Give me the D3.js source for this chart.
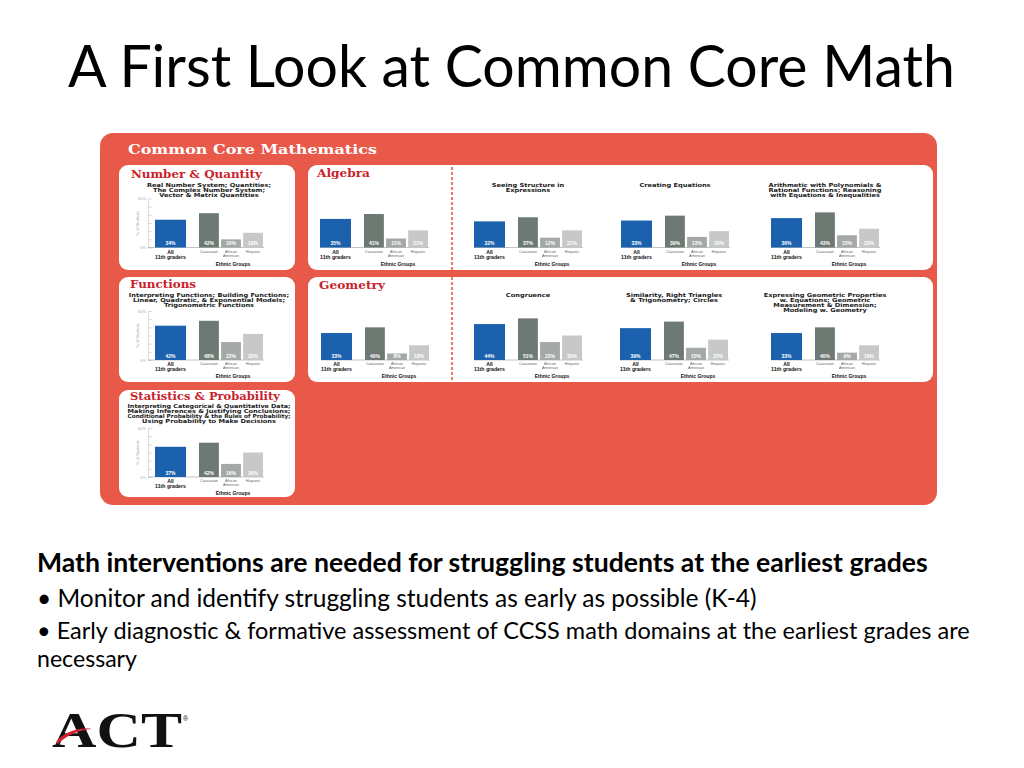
<!DOCTYPE html>
<html>
<head>
<meta charset="utf-8">
<script src="https://cdn.jsdelivr.net/npm/d3@7"></script>
<style>
body { margin: 0; background: #fff; }
svg { display: block; }
</style>
</head>
<body>
<div id="slide"></div>
<script>
// Slide text.
const slideTitle = 'A First Look at Common Core Math';
const boxTitle = 'Common Core Mathematics';
const bodyLines = [
    'Math interventions are needed for struggling students at the earliest grades',
    '\u2022 Monitor and identify struggling students as early as possible (K-4)',
    '\u2022 Early diagnostic & formative assessment of CCSS math domains at the earliest grades are',
    'necessary',
];

// Panel headings (one per white card).
const panelTitles = ['Number & Quantity', 'Algebra', 'Functions', 'Geometry', 'Statistics & Probability'];

// One entry per small bar chart, in reading order.
const chartSubtitles = [
    ['Real Number System; Quantities;', 'The Complex Number System;', 'Vector & Matrix Quantities'],
    [],
    ['Seeing Structure in', 'Expressions'],
    ['Creating Equations'],
    ['Arithmetic with Polynomials &', 'Rational Functions; Reasoning', 'with Equations & Inequalities'],
    ['Interpreting Functions; Building Functions;', 'Linear, Quadratic, & Exponential Models;', 'Trigonometric Functions'],
    [],
    ['Congruence'],
    ['Similarity, Right Triangles', '& Trigonometry; Circles'],
    ['Expressing Geometric Properties', 'w. Equations; Geometric', 'Measurement & Dimension;', 'Modeling w. Geometry'],
    ['Interpreting Categorical & Quantitative Data;', 'Making Inferences & Justifying Conclusions;',
        'Conditional Probability & the Rules of Probability;', 'Using Probability to Make Decisions'],
];

// Percent of students meeting the benchmark.
const allStudents     = [34, 35, 32, 33, 36, 42, 33, 44, 39, 33, 37];
const caucasian       = [42, 41, 37, 39, 43, 48, 40, 51, 47, 40, 42];
const africanAmerican = [10, 11, 12, 13, 15, 22,  8, 22, 15,  9, 16];
const hispanic        = [18, 21, 21, 20, 23, 32, 18, 30, 25, 18, 30];

const allLabel = ['All', '11th graders'];
const ethnicGroups = ['Caucasian', 'African American', 'Hispanic'];
const groupLabel = 'Ethnic Groups';
const yTicks = [0, 10, 20, 30, 40, 50, 60];
const yTickLabels = ['0%', '', '', '', '', '', '60%'];
const yLabel = '% of Students';

// ---- layout and style ----
const red = '#e8594a';
const titleRed = '#c8232c';
const barColors = ['#1b61ae', '#6c7a73', '#a4a9a7', '#c7c9c8'];

const panels = [
    {x: 119, y: 165, w: 176, h: 105, tx: 131, ty: 178, tw: 131},
    {x: 308, y: 165, w: 625, h: 105, tx: 317, ty: 177, tw: 53},
    {x: 119, y: 277, w: 176, h: 105, tx: 130, ty: 288, tw: 66},
    {x: 308, y: 277, w: 625, h: 105, tx: 319, ty: 289, tw: 66},
    {x: 119, y: 390, w: 176, h: 107, tx: 130, ty: 400, tw: 150},
];

const rowBaselines = [247.5, 360, 477];
const rowSubtitleTop = [186.5, 297, 407.5];
const chartLayout = [
    {x: 155, row: 0, axis: true},
    {x: 320, row: 0},
    {x: 474, row: 0},
    {x: 621, row: 0},
    {x: 771, row: 0},
    {x: 155, row: 1, axis: true},
    {x: 321, row: 1},
    {x: 474, row: 1},
    {x: 620, row: 1},
    {x: 771, row: 1},
    {x: 155, row: 2, axis: true},
];

const svg = d3.select('#slide')
    .append('svg')
    .attr('width', 1024)
    .attr('height', 768);

// Grow or shrink the font so the text runs to the given width.
function fit_text(sel, width) {
    const size = parseFloat(sel.attr('font-size'));
    const w = sel.node().getComputedTextLength();
    sel.attr('font-size', size * width / w);
}

let title = svg.append('text')
    .attr('x', 68)
    .attr('y', 87)
    .attr('font-family', 'Lato, sans-serif')
    .attr('font-size', 56)
    .attr('fill', '#000')
    .text(slideTitle);
fit_text(title, 887);

// Red backdrop with the white cards.
svg.append('rect')
    .attr('x', 100).attr('y', 133)
    .attr('width', 837).attr('height', 372)
    .attr('rx', 13)
    .attr('fill', red);

svg.append('text')
    .attr('x', 128).attr('y', 153.5)
    .attr('font-family', 'DejaVu Serif, serif')
    .attr('font-weight', 'bold')
    .attr('font-size', 12.5)
    .attr('fill', '#fff')
    .attr('textLength', 249)
    .attr('lengthAdjust', 'spacingAndGlyphs')
    .text(boxTitle);

svg.selectAll('.panel')
    .data(panels)
    .join('rect')
        .attr('class', 'panel')
        .attr('x', (d) => d.x).attr('y', (d) => d.y)
        .attr('width', (d) => d.w).attr('height', (d) => d.h)
        .attr('rx', 9)
        .attr('fill', '#fff');

svg.selectAll('.panel-title')
    .data(panels)
    .join('text')
        .attr('class', 'panel-title')
        .attr('x', (d) => d.tx).attr('y', (d) => d.ty)
        .attr('font-family', 'DejaVu Serif, serif')
        .attr('font-weight', 'bold')
        .attr('font-size', 10.5)
        .attr('fill', titleRed)
        .attr('textLength', (d) => d.tw)
        .attr('lengthAdjust', 'spacingAndGlyphs')
        .text((d, i) => panelTitles[i]);

// Dashed divider between the domain total and its clusters.
svg.append('line')
    .attr('x1', 452).attr('x2', 452)
    .attr('y1', 167).attr('y2', 381)
    .attr('stroke', red)
    .attr('stroke-width', 1.6)
    .attr('stroke-dasharray', '3,2');

chartLayout.forEach((c, i) => {
    const base = rowBaselines[c.row];
    const g = svg.append('g').attr('transform', `translate(${c.x}, 0)`);

    const y = d3.scaleLinear().domain([0, 60]).range([base, base - 49]);
    const xAll = d3.scaleBand().domain([allLabel.join(' ')]).range([0, 31]);
    const xEth = d3.scaleBand().domain(ethnicGroups).range([44, 108]).paddingInner(0.1);

    // subtitle, centred over the chart; the print face is wide, so stretch it
    chartSubtitles[i].forEach((line, k) => {
        const t = g.append('text')
            .attr('x', 54)
            .attr('y', rowSubtitleTop[c.row] + k * 5.1)
            .attr('text-anchor', 'middle')
            .attr('font-family', 'DejaVu Sans, sans-serif')
            .attr('font-weight', 'bold')
            .attr('font-size', 5.5)
            .attr('fill', '#1a1a1a')
            .text(line);
        const w = Math.min(t.node().getComputedTextLength() * 1.2, 163);
        t.attr('textLength', w).attr('lengthAdjust', 'spacingAndGlyphs');
    });

    if (c.axis) {
        g.append('g')
            .attr('transform', 'translate(-7, 0)')
            .call(d3.axisLeft(y)
                .tickValues(yTicks)
                .tickSize(-4)
                .tickSizeOuter(0)
                .tickPadding(2)
                .tickFormat((d, k) => yTickLabels[k]))
            .call((a) => a.selectAll('line, path').attr('stroke', '#c4c4c4').attr('stroke-width', 0.6))
            .call((a) => a.selectAll('text')
                .attr('font-size', 4)
                .attr('font-family', 'Liberation Sans, sans-serif')
                .attr('fill', '#aaa'));
        g.append('text')
            .attr('transform', `translate(-16, ${base - 24.5}) rotate(-90)`)
            .attr('text-anchor', 'middle')
            .attr('font-family', 'Liberation Sans, sans-serif')
            .attr('font-size', 4)
            .attr('fill', '#aaa')
            .text(yLabel);
    }

    g.append('line')
        .attr('x1', c.axis ? -7 : 0).attr('x2', 109)
        .attr('y1', base).attr('y2', base)
        .attr('stroke', '#9a9a9a')
        .attr('stroke-width', 0.6);

    const bars = [{key: allLabel.join(' '), value: allStudents[i], x: xAll(allLabel.join(' ')), w: xAll.bandwidth(), color: barColors[0]}]
        .concat(ethnicGroups.map((e, k) => ({
            key: e,
            value: [caucasian, africanAmerican, hispanic][k][i],
            x: xEth(e),
            w: xEth.bandwidth(),
            color: barColors[k + 1],
        })));

    g.selectAll('.bar')
        .data(bars)
        .join('rect')
            .attr('class', 'bar')
            .attr('x', (d) => d.x)
            .attr('y', (d) => y(d.value))
            .attr('width', (d) => d.w)
            .attr('height', (d) => base - y(d.value))
            .attr('fill', (d) => d.color);

    g.selectAll('.value')
        .data(bars)
        .join('text')
            .attr('class', 'value')
            .attr('x', (d) => d.x + d.w / 2)
            .attr('y', base - 2.2)
            .attr('text-anchor', 'middle')
            .attr('font-family', 'Liberation Sans, sans-serif')
            .attr('font-weight', 'bold')
            .attr('font-size', 5)
            .attr('fill', '#fff')
            .text((d) => d.value + '%');

    // category labels under the bars
    allLabel.forEach((line, k) => {
        g.append('text')
            .attr('x', xAll(allLabel.join(' ')) + xAll.bandwidth() / 2)
            .attr('y', base + 6 + k * 5)
            .attr('text-anchor', 'middle')
            .attr('font-family', 'Liberation Sans, sans-serif')
            .attr('font-weight', 'bold')
            .attr('font-size', 5.2)
            .attr('fill', '#111')
            .text(line);
    });
    ethnicGroups.forEach((e) => {
        e.split(' ').forEach((word, k) => {
            g.append('text')
                .attr('x', xEth(e) + xEth.bandwidth() / 2)
                .attr('y', base + 5 + k * 4)
                .attr('text-anchor', 'middle')
                .attr('font-family', 'Liberation Sans, sans-serif')
                .attr('font-size', 3.8)
                .attr('fill', '#666')
                .text(word);
        });
    });
    g.append('text')
        .attr('x', 78)
        .attr('y', base + 18)
        .attr('text-anchor', 'middle')
        .attr('font-family', 'Liberation Sans, sans-serif')
        .attr('font-weight', 'bold')
        .attr('font-size', 5)
        .attr('fill', '#111')
        .text(groupLabel);
});

// Body text under the figure.
const bodyLayout = [
    {y: 572, w: 891, bold: true, size: 22},
    {y: 607, w: 720, bold: false, size: 20},
    {y: 639, w: 933, bold: false, size: 20},
    {y: 667, w: 100, bold: false, size: 20},
];
bodyLines.forEach((line, k) => {
    const t = svg.append('text')
        .attr('x', 37)
        .attr('y', bodyLayout[k].y)
        .attr('font-family', 'Lato, sans-serif')
        .attr('font-weight', bodyLayout[k].bold ? 'bold' : 'normal')
        .attr('font-size', bodyLayout[k].size)
        .attr('fill', '#000')
        .text(line);
    fit_text(t, bodyLayout[k].w);
});

// ACT logo
svg.append('text')
    .attr('x', 52).attr('y', 747)
    .attr('font-family', 'Liberation Serif, serif')
    .attr('font-weight', 'bold')
    .attr('font-size', 51)
    .attr('textLength', 130)
    .attr('lengthAdjust', 'spacingAndGlyphs')
    .attr('fill', '#111')
    .text('ACT');
svg.append('path')
    .attr('d', 'M56,742 C63,733 77,727 92,729 C79,730 67,735 58,744 Z')
    .attr('fill', '#d42030');
svg.append('text')
    .attr('x', 183).attr('y', 721)
    .attr('font-family', 'Liberation Sans, sans-serif')
    .attr('font-size', 7)
    .attr('fill', '#111')
    .text('\u00ae');
</script>
</body>
</html>
